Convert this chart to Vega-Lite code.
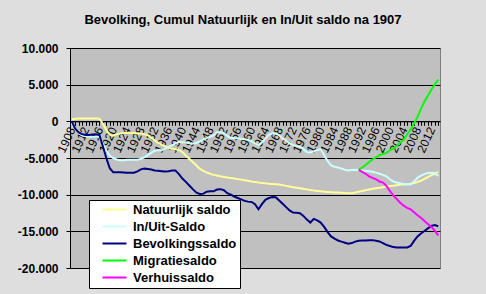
{
  "$schema": "https://vega.github.io/schema/vega-lite/v6.json",
  "width": 370,
  "height": 220,
  "autosize": {"type": "none"},
  "padding": {"left": 70, "top": 48, "right": 46, "bottom": 26},
  "background": "#dedede",
  "title": {
    "text": "Bevolking, Cumul Natuurlijk en In/Uit saldo na 1907",
    "font": "Liberation Sans",
    "fontSize": 13,
    "fontWeight": "bold",
    "color": "#000000",
    "anchor": "middle",
    "frame": "group",
    "dx": -12,
    "baseline": "alphabetic",
    "offset": 5
  },
  "config": {
    "view": {"fill": "#C0C0C0", "stroke": "#808080"}
  },
  "data": {
    "values": [
      {"jaar": 1908, "N": 300, "I": -300, "B": 0},
      {"jaar": 1909, "N": 350, "I": -1100, "B": -1000},
      {"jaar": 1910, "N": 380, "I": -1600, "B": -1500},
      {"jaar": 1911, "N": 400, "I": -1950, "B": -1750},
      {"jaar": 1912, "N": 400, "I": -2050, "B": -1850},
      {"jaar": 1913, "N": 400, "I": -2100, "B": -1870},
      {"jaar": 1914, "N": 400, "I": -2100, "B": -1800},
      {"jaar": 1915, "N": 400, "I": -2100, "B": -1750},
      {"jaar": 1916, "N": 350, "I": -2150, "B": -1850},
      {"jaar": 1917, "N": -300, "I": -3000, "B": -3400},
      {"jaar": 1918, "N": -1200, "I": -4000, "B": -5000},
      {"jaar": 1919, "N": -1830, "I": -4700, "B": -6400},
      {"jaar": 1920, "N": -1970, "I": -5000, "B": -6950},
      {"jaar": 1921, "N": -1750, "I": -5200, "B": -6950},
      {"jaar": 1922, "N": -1650, "I": -5300, "B": -6950},
      {"jaar": 1923, "N": -1600, "I": -5300, "B": -6980},
      {"jaar": 1924, "N": -1600, "I": -5250, "B": -7000},
      {"jaar": 1925, "N": -1580, "I": -5230, "B": -7020},
      {"jaar": 1926, "N": -1600, "I": -5250, "B": -7000},
      {"jaar": 1927, "N": -1650, "I": -5250, "B": -6830},
      {"jaar": 1928, "N": -1650, "I": -5100, "B": -6550},
      {"jaar": 1929, "N": -1750, "I": -4900, "B": -6450},
      {"jaar": 1930, "N": -1900, "I": -4600, "B": -6500},
      {"jaar": 1931, "N": -2200, "I": -4300, "B": -6560},
      {"jaar": 1932, "N": -2600, "I": -4000, "B": -6700},
      {"jaar": 1933, "N": -2950, "I": -3900, "B": -6750},
      {"jaar": 1934, "N": -3200, "I": -3950, "B": -6800},
      {"jaar": 1935, "N": -3400, "I": -3700, "B": -6850},
      {"jaar": 1936, "N": -3600, "I": -3500, "B": -6800},
      {"jaar": 1937, "N": -3700, "I": -3300, "B": -6720},
      {"jaar": 1938, "N": -3800, "I": -3000, "B": -6700},
      {"jaar": 1939, "N": -3900, "I": -2800, "B": -7200},
      {"jaar": 1940, "N": -4200, "I": -2850, "B": -7800},
      {"jaar": 1941, "N": -4650, "I": -2900, "B": -8250},
      {"jaar": 1942, "N": -5100, "I": -3000, "B": -8750},
      {"jaar": 1943, "N": -5550, "I": -3030, "B": -9250},
      {"jaar": 1944, "N": -6000, "I": -2950, "B": -9700},
      {"jaar": 1945, "N": -6450, "I": -2750, "B": -9900},
      {"jaar": 1946, "N": -6750, "I": -2500, "B": -9880},
      {"jaar": 1947, "N": -6950, "I": -2300, "B": -9600},
      {"jaar": 1948, "N": -7150, "I": -2100, "B": -9550},
      {"jaar": 1949, "N": -7300, "I": -1900, "B": -9550},
      {"jaar": 1950, "N": -7400, "I": -1500, "B": -9300},
      {"jaar": 1951, "N": -7500, "I": -1450, "B": -9250},
      {"jaar": 1952, "N": -7580, "I": -1600, "B": -9400},
      {"jaar": 1953, "N": -7650, "I": -2000, "B": -9800},
      {"jaar": 1954, "N": -7720, "I": -2250, "B": -10000},
      {"jaar": 1955, "N": -7800, "I": -2300, "B": -10250},
      {"jaar": 1956, "N": -7880, "I": -2300, "B": -10450},
      {"jaar": 1957, "N": -7950, "I": -2400, "B": -10650},
      {"jaar": 1958, "N": -8030, "I": -2450, "B": -10850},
      {"jaar": 1959, "N": -8100, "I": -2500, "B": -10950},
      {"jaar": 1960, "N": -8200, "I": -2700, "B": -11000},
      {"jaar": 1961, "N": -8280, "I": -3000, "B": -11300},
      {"jaar": 1962, "N": -8350, "I": -3250, "B": -12000},
      {"jaar": 1963, "N": -8400, "I": -2900, "B": -11300},
      {"jaar": 1964, "N": -8450, "I": -2300, "B": -10700},
      {"jaar": 1965, "N": -8500, "I": -1850, "B": -10460},
      {"jaar": 1966, "N": -8530, "I": -1650, "B": -10320},
      {"jaar": 1967, "N": -8570, "I": -1650, "B": -10350},
      {"jaar": 1968, "N": -8610, "I": -1900, "B": -10800},
      {"jaar": 1969, "N": -8700, "I": -2350, "B": -11250},
      {"jaar": 1970, "N": -8800, "I": -2600, "B": -11700},
      {"jaar": 1971, "N": -8900, "I": -3000, "B": -12150},
      {"jaar": 1972, "N": -8980, "I": -3200, "B": -12450},
      {"jaar": 1973, "N": -9050, "I": -3400, "B": -12480},
      {"jaar": 1974, "N": -9130, "I": -3450, "B": -12520},
      {"jaar": 1975, "N": -9200, "I": -3800, "B": -12900},
      {"jaar": 1976, "N": -9280, "I": -4200, "B": -13400},
      {"jaar": 1977, "N": -9350, "I": -4250, "B": -13800},
      {"jaar": 1978, "N": -9440, "I": -4100, "B": -13300},
      {"jaar": 1979, "N": -9500, "I": -3900, "B": -13500},
      {"jaar": 1980, "N": -9550, "I": -3800, "B": -13800},
      {"jaar": 1981, "N": -9600, "I": -4600, "B": -14400},
      {"jaar": 1982, "N": -9640, "I": -5400, "B": -15100},
      {"jaar": 1983, "N": -9670, "I": -6000, "B": -15700},
      {"jaar": 1984, "N": -9690, "I": -6200, "B": -16000},
      {"jaar": 1985, "N": -9720, "I": -6300, "B": -16250},
      {"jaar": 1986, "N": -9750, "I": -6450, "B": -16400},
      {"jaar": 1987, "N": -9770, "I": -6600, "B": -16550},
      {"jaar": 1988, "N": -9800, "I": -6700, "B": -16690},
      {"jaar": 1989, "N": -9800, "I": -6650, "B": -16600},
      {"jaar": 1990, "N": -9700, "I": -6600, "B": -16400},
      {"jaar": 1991, "N": -9600, "I": -6620, "B": -16280, "M": -6620, "V": -6620},
      {"jaar": 1992, "N": -9500, "I": -6700, "B": -16250, "M": -6300, "V": -6900},
      {"jaar": 1993, "N": -9400, "I": -6750, "B": -16250, "M": -5950, "V": -7150},
      {"jaar": 1994, "N": -9300, "I": -6800, "B": -16200, "M": -5550, "V": -7500},
      {"jaar": 1995, "N": -9200, "I": -6880, "B": -16200, "M": -5200, "V": -7700},
      {"jaar": 1996, "N": -9120, "I": -7000, "B": -16280, "M": -4900, "V": -7900},
      {"jaar": 1997, "N": -9050, "I": -7150, "B": -16380, "M": -4600, "V": -8200},
      {"jaar": 1998, "N": -8980, "I": -7300, "B": -16600, "M": -4450, "V": -8350},
      {"jaar": 1999, "N": -8900, "I": -7500, "B": -16850, "M": -4300, "V": -8800},
      {"jaar": 2000, "N": -8830, "I": -7900, "B": -17000, "M": -3950, "V": -9500},
      {"jaar": 2001, "N": -8780, "I": -8200, "B": -17150, "M": -3700, "V": -10100},
      {"jaar": 2002, "N": -8720, "I": -8350, "B": -17200, "M": -3350, "V": -10600},
      {"jaar": 2003, "N": -8660, "I": -8450, "B": -17200, "M": -2900, "V": -11100},
      {"jaar": 2004, "N": -8600, "I": -8550, "B": -17200, "M": -2500, "V": -11500},
      {"jaar": 2005, "N": -8570, "I": -8570, "B": -17200, "M": -1800, "V": -11800},
      {"jaar": 2006, "N": -8500, "I": -8600, "B": -17000, "M": -1100, "V": -12000},
      {"jaar": 2007, "N": -8400, "I": -8200, "B": -16300, "M": -300, "V": -12400},
      {"jaar": 2008, "N": -8280, "I": -7700, "B": -15700, "M": 600, "V": -12800},
      {"jaar": 2009, "N": -8100, "I": -7400, "B": -15300, "M": 1700, "V": -13150},
      {"jaar": 2010, "N": -7850, "I": -7200, "B": -14950, "M": 2700, "V": -13600},
      {"jaar": 2011, "N": -7600, "I": -7050, "B": -14600, "M": 3500, "V": -14000},
      {"jaar": 2012, "N": -7350, "I": -7000, "B": -14250, "M": 4300, "V": -14400},
      {"jaar": 2013, "N": -7150, "I": -7050, "B": -14150, "M": 5000, "V": -14900},
      {"jaar": 2014, "N": -6900, "I": -7450, "B": -14300, "M": 5700, "V": -15550}
    ]
  },
  "transform": [
    {"fold": ["N", "I", "B", "M", "V"], "as": ["reeks", "waarde"]}
  ],
  "mark": {"type": "line", "strokeWidth": 2},
  "encoding": {
    "x": {
      "field": "jaar",
      "type": "ordinal",
      "scale": {"type": "point", "padding": 0.5},
      "axis": {
        "orient": "bottom",
        "offset": -146.67,
        "title": null,
        "grid": false,
        "domainColor": "#000000",
        "tickColor": "#000000",
        "tickSize": 4,
        "labelAngle": -65,
        "labelFont": "Liberation Sans",
        "labelFontSize": 12,
        "labelColor": "#000000",
        "labelPadding": 2,
        "labelOverlap": false,
        "labelExpr": "(datum.value - 1908) % 4 == 0 ? datum.label : ''"
      }
    },
    "y": {
      "field": "waarde",
      "type": "quantitative",
      "scale": {"domain": [-20000, 10000], "nice": false, "zero": false},
      "axis": {
        "title": null,
        "values": [-20000, -15000, -10000, -5000, 0, 5000, 10000],
        "grid": true,
        "gridColor": "#000000",
        "gridOpacity": 1,
        "domainColor": "#000000",
        "tickColor": "#000000",
        "tickSize": 4,
        "labelFont": "Liberation Sans",
        "labelFontSize": 12,
        "labelFontWeight": "bold",
        "labelColor": "#000000",
        "labelPadding": 8,
        "labelExpr": "replace(replace(format(datum.value, ','), ',', '.'), '\u2212', '-')"
      }
    },
    "color": {
      "field": "reeks",
      "type": "nominal",
      "scale": {
        "domain": ["N", "I", "B", "M", "V"],
        "range": ["#FFFF99", "#CCFFFF", "#000080", "#00FF00", "#FF00FF"]
      },
      "legend": {
        "orient": "none",
        "legendX": 19,
        "legendY": 152,
        "title": null,
        "fillColor": "#FFFFFF",
        "strokeColor": "#000000",
        "padding": 3,
        "symbolType": "M1,0H7",
        "symbolSize": 64,
        "symbolStrokeWidth": 2,
        "labelFont": "Liberation Sans",
        "labelFontSize": 13,
        "labelFontWeight": "bold",
        "labelColor": "#000000",
        "labelOffset": 28,
        "rowPadding": 3,
        "labelExpr": "datum.label == 'N' ? 'Natuurlijk saldo' : datum.label == 'I' ? 'In/Uit-Saldo' : datum.label == 'B' ? 'Bevolkingssaldo' : datum.label == 'M' ? 'Migratiesaldo' : 'Verhuissaldo'"
      }
    }
  }
}
